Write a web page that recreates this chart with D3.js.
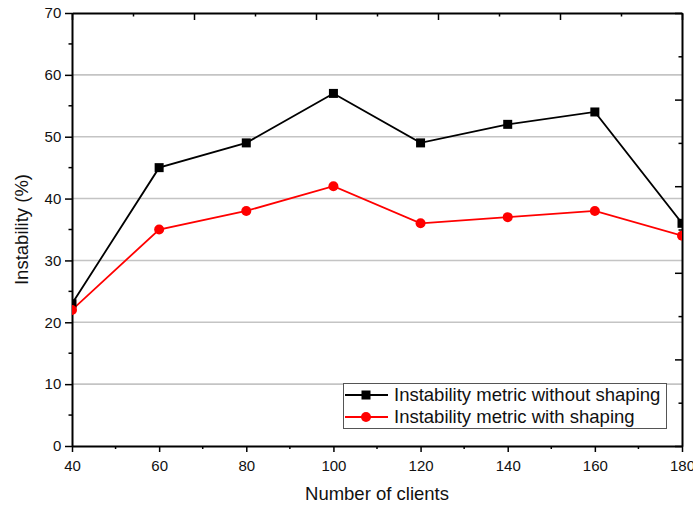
<!DOCTYPE html>
<html><head><meta charset="utf-8">
<script src="https://cdn.jsdelivr.net/npm/d3@7"></script>
<style>body{margin:0;background:#fff}svg{display:block;font-family:"Liberation Sans",Arial,sans-serif}</style>
</head><body>
<svg id="c" width="693" height="506"></svg>
<script>
const clients = [40, 60, 80, 100, 120, 140, 160, 180];
const withoutShaping = [23, 45, 49, 57, 49, 52, 54, 36];
const withShaping = [22, 35, 38, 42, 36, 37, 38, 34];
const xTicks = [40, 60, 80, 100, 120, 140, 160, 180];
const yTicks = [0, 10, 20, 30, 40, 50, 60, 70];
const gridValues = [10, 20, 30, 40, 50, 60];
const seriesNames = ["Instability metric without shaping", "Instability metric with shaping"];

const W = 693, H = 506;
const m = {l: 72, r: 11, t: 13, b: 60};
const svg = d3.select("#c");
const x = d3.scaleLinear().domain([40, 180]).range([m.l, W - m.r]);
const y = d3.scaleLinear().domain([0, 70]).range([H - m.b, m.t]);
const x0 = m.l, x1 = W - m.r, y0 = H - m.b, y1 = m.t;

svg.append("defs").append("clipPath").attr("id", "clip")
  .append("rect").attr("x", x0).attr("y", y1).attr("width", x1 - x0).attr("height", y0 - y1);

// grid
svg.append("g").selectAll("line").data(gridValues).join("line")
  .attr("x1", x0).attr("x2", x1).attr("y1", d => y(d)).attr("y2", d => y(d))
  .attr("stroke", "#c4c4c4").attr("stroke-width", 1.6);

// bottom axis
const xMinor = d3.range(50, 180, 20);
const gb = svg.append("g").attr("transform", `translate(0,${y0})`)
  .call(d3.axisBottom(x).tickValues(xTicks).tickFormat(d3.format("d")).tickSize(6).tickSizeOuter(0));
gb.selectAll(".tick").filter(d => d === 180).select("text").attr("dx", 0);
gb.append("g").selectAll("line").data(xMinor).join("line")
  .attr("x1", d => x(d)).attr("x2", d => x(d)).attr("y1", 0).attr("y2", 3)
  .attr("stroke", "#000").attr("stroke-width", 1.5);

// left axis
const yMinor = d3.range(5, 70, 10);
const gl = svg.append("g").attr("transform", `translate(${x0},0)`)
  .call(d3.axisLeft(y).tickValues(yTicks).tickFormat(d3.format("d")).tickSize(7).tickSizeOuter(0));
gl.append("g").selectAll("line").data(yMinor).join("line")
  .attr("x1", 0).attr("x2", -3.5).attr("y1", d => y(d)).attr("y2", d => y(d))
  .attr("stroke", "#000").attr("stroke-width", 1.5);

[gb, gl].forEach(g => {
  g.select(".domain").attr("stroke", "#000").attr("stroke-width", 2);
  g.selectAll(".tick line").attr("stroke", "#000").attr("stroke-width", 1.5);
  g.selectAll(".tick text").attr("font-size", 15).attr("fill", "#111")
    .attr("font-family", "'Liberation Sans', Arial, sans-serif");
});
gb.selectAll(".tick text").attr("dy", "1.05em");
gl.selectAll(".tick text").attr("dx", "-0.05em");

// top axis (independent ticks, 5 intervals)
const xt = d3.scaleLinear().domain([0, 10]).range([x0, x1]);
const gt = svg.append("g").attr("transform", `translate(0,${y1})`)
  .call(d3.axisTop(xt).ticks(10).tickFormat("").tickSize(-6).tickSizeOuter(0));
gt.selectAll(".tick line").attr("y2", d => d % 2 === 0 ? 7 : 3.5);
// right axis (independent ticks)
const yr = d3.scaleLinear().domain([0, 10]).range([y0, y1]);
const gr = svg.append("g").attr("transform", `translate(${x1},0)`)
  .call(d3.axisRight(yr).ticks(10).tickFormat("").tickSize(-6).tickSizeOuter(0));
gr.selectAll(".tick line").attr("x2", d => d % 2 === 0 ? -7 : -3.5);
[gt, gr].forEach(g => {
  g.select(".domain").attr("stroke", "#000").attr("stroke-width", 2);
  g.selectAll(".tick line").attr("stroke", "#000").attr("stroke-width", 1.5);
});

// series
const plot = svg.append("g").attr("clip-path", "url(#clip)");
const line = d3.line().x(d => x(d[0])).y(d => y(d[1]));
const s1 = clients.map((c, i) => [c, withoutShaping[i]]);
const s2 = clients.map((c, i) => [c, withShaping[i]]);
plot.append("path").datum(s1).attr("d", line).attr("fill", "none").attr("stroke", "#000").attr("stroke-width", 1.8);
plot.append("path").datum(s2).attr("d", line).attr("fill", "none").attr("stroke", "#ff0000").attr("stroke-width", 1.8);
plot.selectAll(".sq").data(s1).join("rect").attr("class", "sq")
  .attr("x", d => x(d[0]) - 4.5).attr("y", d => y(d[1]) - 4.5).attr("width", 9).attr("height", 9).attr("fill", "#000");
plot.selectAll(".ci").data(s2).join("circle").attr("class", "ci")
  .attr("cx", d => x(d[0])).attr("cy", d => y(d[1])).attr("r", 5).attr("fill", "#ff0000");

// legend
const lg = svg.append("g");
lg.append("rect").attr("x", 343.5).attr("y", 383.5).attr("width", 323).attr("height", 45)
  .attr("fill", "#fff").attr("stroke", "#555").attr("stroke-width", 1);
const rows = [{c: "#000", shape: "sq"}, {c: "#ff0000", shape: "ci"}];
rows.forEach((r, i) => {
  const cy = 395 + i * 22;
  lg.append("line").attr("x1", 345).attr("x2", 388).attr("y1", cy).attr("y2", cy).attr("stroke", r.c).attr("stroke-width", 1.8);
  if (r.shape === "sq") lg.append("rect").attr("x", 366 - 4.5).attr("y", cy - 4.5).attr("width", 9).attr("height", 9).attr("fill", r.c);
  else lg.append("circle").attr("cx", 366).attr("cy", cy).attr("r", 5).attr("fill", r.c);
  lg.append("text").attr("x", 394).attr("y", cy).attr("dy", "0.35em").attr("font-size", 18.5).attr("fill", "#111").text(seriesNames[i]);
});

// axis titles
svg.append("text").attr("x", (x0 + x1) / 2).attr("y", 500).attr("text-anchor", "middle")
  .attr("font-size", 18.5).attr("fill", "#111").text("Number of clients");
svg.append("text").attr("transform", `translate(28,${(y0 + y1) / 2}) rotate(-90)`).attr("text-anchor", "middle")
  .attr("font-size", 18.5).attr("fill", "#111").text("Instability (%)");
</script>
</body></html>
